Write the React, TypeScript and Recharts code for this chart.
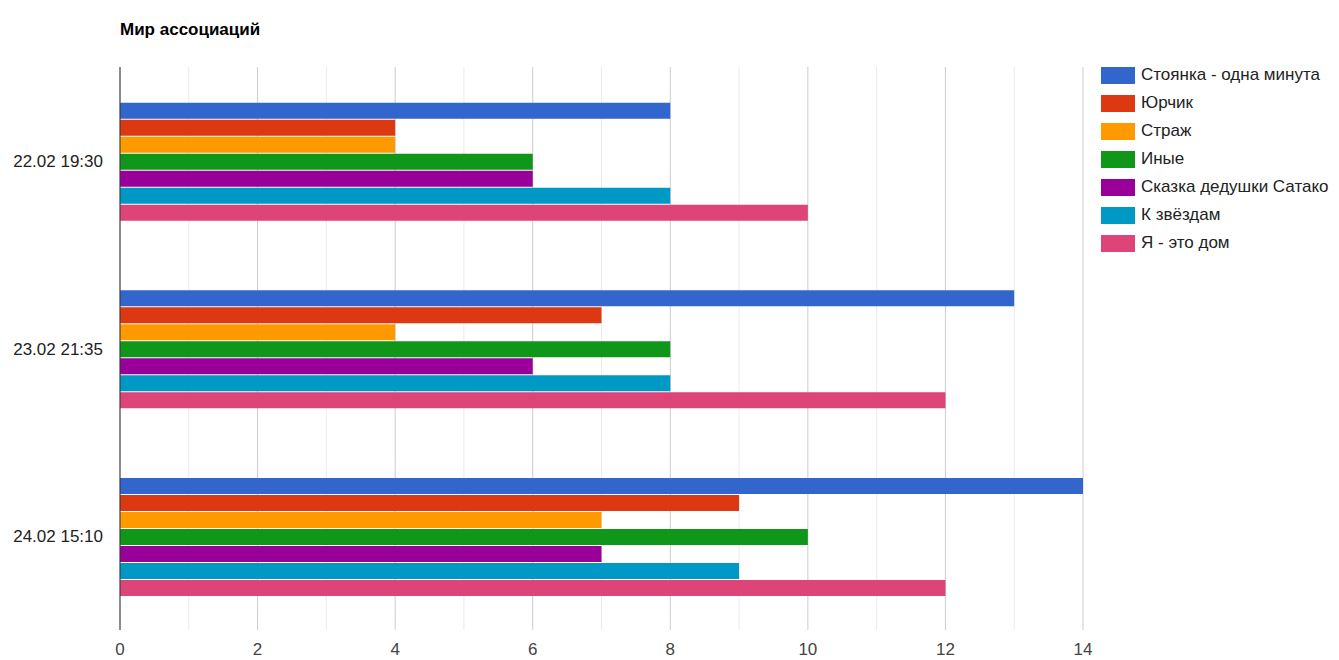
import { BarChart, Bar, XAxis, YAxis, CartesianGrid, ReferenceLine } from "recharts";

const sessions = ["22.02 19:30", "23.02 21:35", "24.02 15:10"];
const seriesNames = [
  "Стоянка - одна минута",
  "Юрчик",
  "Страж",
  "Иные",
  "Сказка дедушки Сатако",
  "К звёздам",
  "Я - это дом",
];
const stoyanka = [8, 13, 14];
const yurchik = [4, 7, 9];
const strazh = [4, 4, 7];
const inye = [6, 8, 10];
const skazka = [6, 6, 7];
const kZvezdam = [8, 8, 9];
const yaDom = [10, 12, 12];
const seriesValues = [stoyanka, yurchik, strazh, inye, skazka, kZvezdam, yaDom];
const colors = ["#3366cc", "#dc3912", "#ff9900", "#109618", "#990099", "#0099c6", "#dd4477"];
const majorTicks = [0, 2, 4, 6, 8, 10, 12, 14];
const minorTicks = [1, 3, 5, 7, 9, 11, 13];

const data = sessions.map((name, i) => {
  const row: Record<string, string | number> = { name };
  seriesNames.forEach((s, j) => (row["s" + j] = seriesValues[j][i]));
  return row;
});

const font = "Arial, 'Liberation Sans', sans-serif";

export default function App() {
  return (
    <div style={{ position: "relative", width: 1331, height: 650, fontFamily: font }}>
      <div style={{ position: "absolute", left: 112, top: 12, fontSize: 17, fontWeight: "bold", color: "#000" }}>
        Мир ассоциаций
      </div>
      <BarChart
        width={1331}
        height={650}
        data={data}
        layout="vertical"
        margin={{ top: 59, right: 256, bottom: 0, left: 0 }}
        barCategoryGap="19%"
        barGap={1}
      >
        <CartesianGrid horizontal={false} stroke="#cccccc" />
        {minorTicks.map((v) => (
          <ReferenceLine key={v} x={v} stroke="#ebebeb" zIndex={-90} />
        ))}
        <XAxis
          type="number"
          domain={[0, 14]}
          ticks={majorTicks}
          axisLine={false}
          tickLine={false}
          tickSize={0}
          tickMargin={13}
          height={28}
          tick={{ fill: "#444", fontSize: 17, fontFamily: font }}
        />
        <YAxis
          type="category"
          dataKey="name"
          width={112}
          axisLine={{ stroke: "#333" }}
          tickLine={false}
          tickSize={0}
          tickMargin={17}
          tick={{ fill: "#222", fontSize: 17, fontFamily: font }}
        />
        {seriesNames.map((s, j) => (
          <Bar key={s} dataKey={"s" + j} name={s} fill={colors[j]} isAnimationActive={false} />
        ))}
      </BarChart>
      <div style={{ position: "absolute", left: 1093, top: 53 }}>
        {seriesNames.map((s, j) => (
          <div key={s} style={{ display: "flex", alignItems: "center", height: 28 }}>
            <div style={{ width: 34, height: 17, background: colors[j], marginRight: 6 }} />
            <span style={{ fontSize: 17, color: "#222", whiteSpace: "nowrap" }}>{s}</span>
          </div>
        ))}
      </div>
    </div>
  );
}
